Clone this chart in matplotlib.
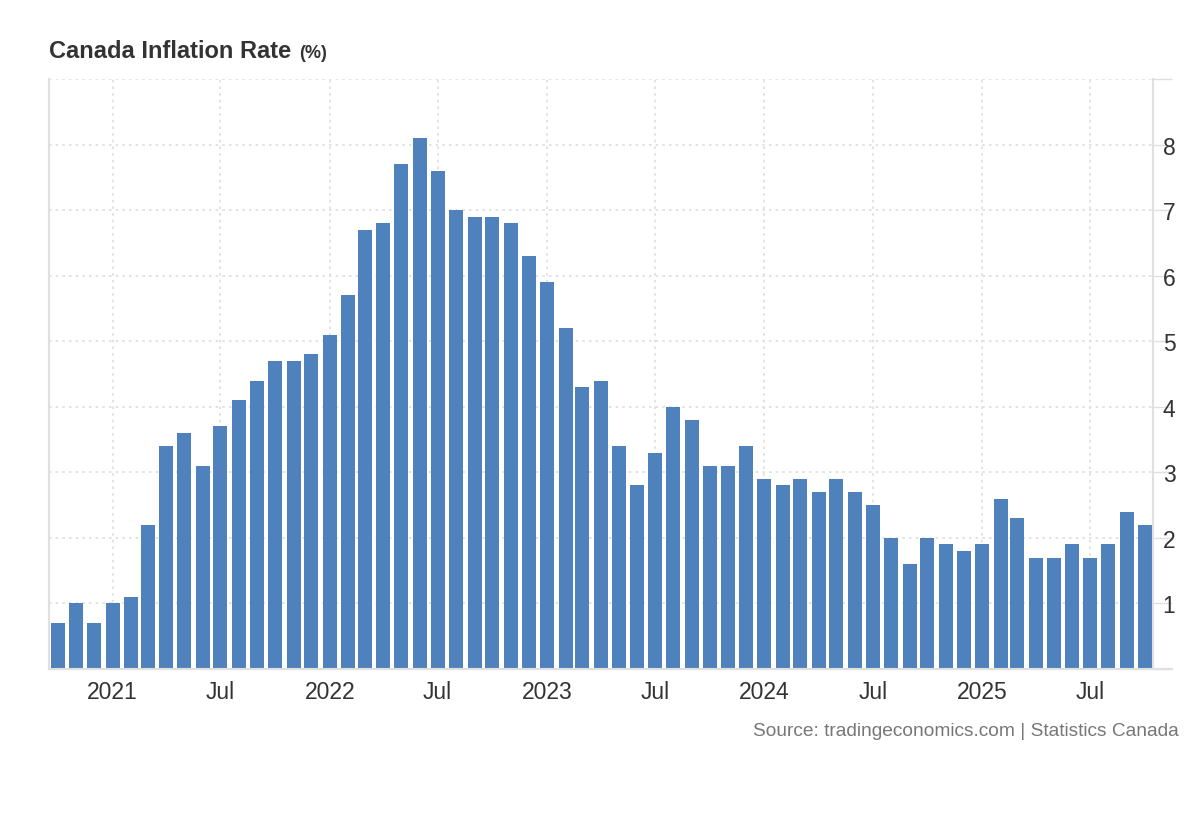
import matplotlib.pyplot as plt
import pandas as pd

# Canada CPI y/y, Oct 2020 .. Oct 2025
months = pd.date_range("2020-10-01", "2025-10-01", freq="MS")
inflation = [0.7, 1.0, 0.7,
             1.0, 1.1, 2.2, 3.4, 3.6, 3.1, 3.7, 4.1, 4.4, 4.7, 4.7, 4.8,
             5.1, 5.7, 6.7, 6.8, 7.7, 8.1, 7.6, 7.0, 6.9, 6.9, 6.8, 6.3,
             5.9, 5.2, 4.3, 4.4, 3.4, 2.8, 3.3, 4.0, 3.8, 3.1, 3.1, 3.4,
             2.9, 2.8, 2.9, 2.7, 2.9, 2.7, 2.5, 2.0, 1.6, 2.0, 1.9, 1.8,
             1.9, 2.6, 2.3, 1.7, 1.7, 1.9, 1.7, 1.9, 2.4, 2.2]
xticks = pd.to_datetime(["2021-01-01", "2021-07-01", "2022-01-01", "2022-07-01",
                         "2023-01-01", "2023-07-01", "2024-01-01", "2024-07-01",
                         "2025-01-01", "2025-07-01"])
xlabels = ["2021", "Jul", "2022", "Jul", "2023", "Jul", "2024", "Jul", "2025", "Jul"]
yticks = [1, 2, 3, 4, 5, 6, 7, 8]

plt.rcParams['font.family'] = ['Liberation Sans', 'DejaVu Sans']

fig = plt.figure(figsize=(12, 8.2), dpi=100)
ax = fig.add_axes([49/1200, 150/820, 1104/1200, 590/820])

bar_color = '#4f81bd'
ax.bar(months, inflation, width=23.5, color=bar_color, zorder=2)

ax.set_xlim(pd.Timestamp("2020-09-16"), pd.Timestamp("2025-10-15"))
ax.set_ylim(0, 9)

ax.set_xticks(xticks)
ax.set_xticklabels(xlabels, fontsize=16.5, color='#333333')
ax.tick_params(axis='x', length=0, pad=8)

ax.yaxis.tick_right()
ax.set_yticks(list(range(0, 10)))
ax.set_yticklabels([""] + [str(v) for v in yticks] + [""], fontsize=16.5, color='#333333')
ax.tick_params(axis='y', length=14, width=1, color='#e0e0e0', pad=-7)

ax.grid(True, color='#dddddd', linestyle=(0, (1.5, 2.5)), linewidth=1.2, zorder=0)
ax.set_axisbelow(True)

ax.spines['top'].set_visible(False)
for side in ['left', 'right', 'bottom']:
    ax.spines[side].set_color('#e0e0e0')
    ax.spines[side].set_linewidth(1.5)

# bottom line runs a little past the right spine
ax.plot([1.0, 1.017], [0, 0], transform=ax.transAxes, color='#e0e0e0',
        lw=1.5, clip_on=False)

fig.text(49/1200, 1 - 52/820, "Canada Inflation Rate", fontsize=17,
         fontweight='bold', color='#333333', va='center')
fig.text(299/1200, 1 - 53/820, "(%)", fontsize=13, fontweight='bold',
         color='#333333', va='center')
fig.text(1179/1200, 1 - 732/820, "Source: tradingeconomics.com | Statistics Canada",
         fontsize=13.8, color='#777777', ha='right', va='center')

fig.savefig("out.png", dpi=100)
